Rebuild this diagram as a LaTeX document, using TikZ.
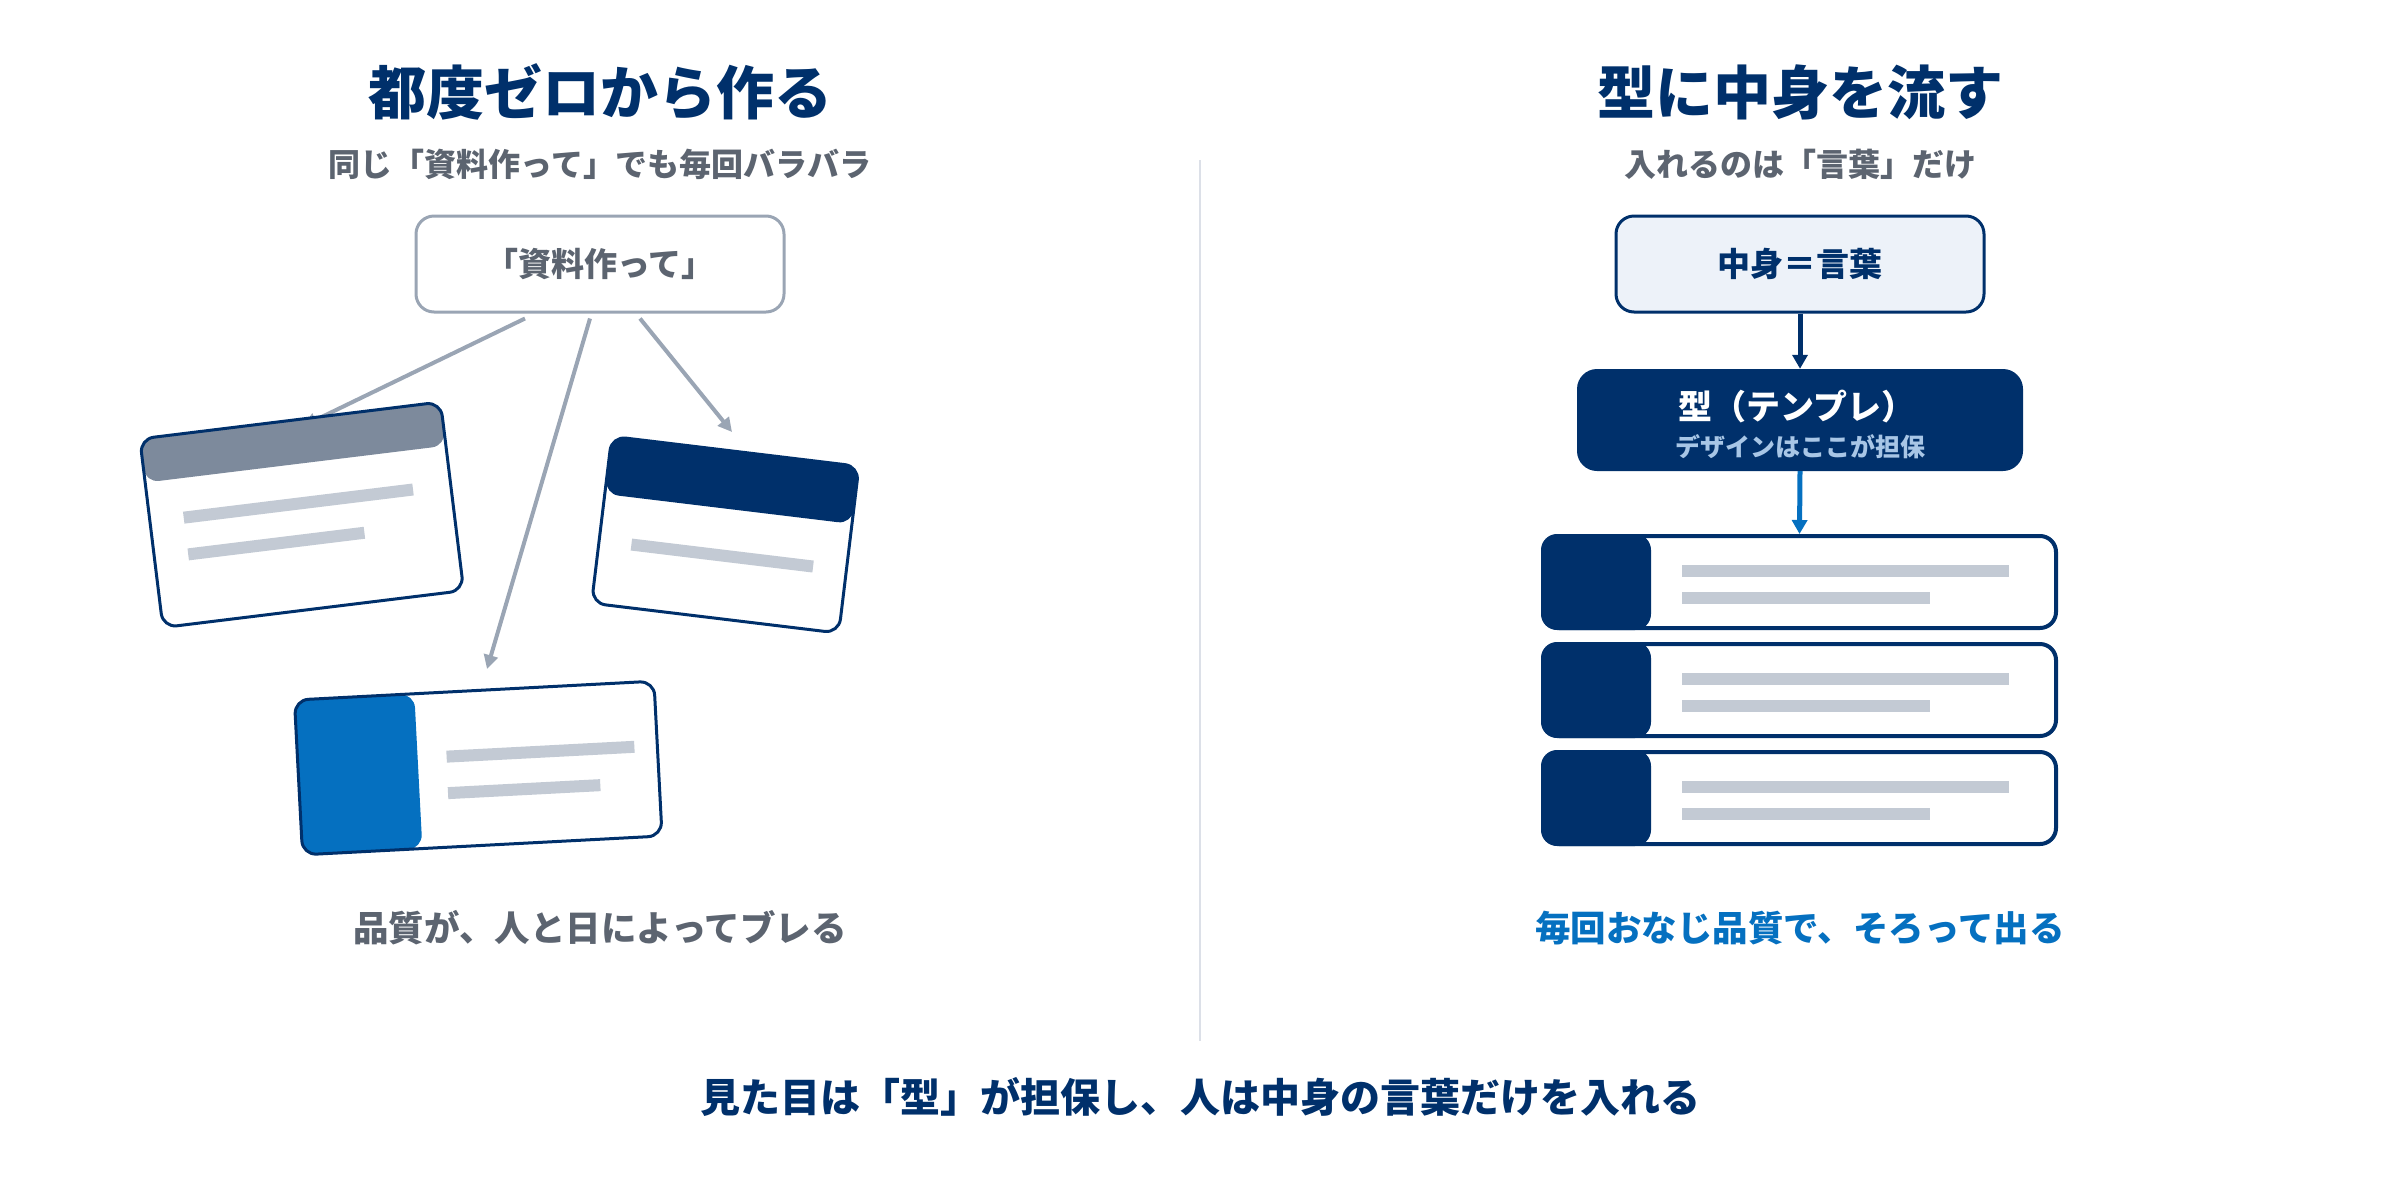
\documentclass[tikz,border=0pt]{standalone}
\usepackage{fontspec}
\setmainfont{Noto Sans CJK JP}
\usetikzlibrary{arrows.meta}

\definecolor{navy}{HTML}{00306B}
\definecolor{brand}{HTML}{0570C0}
\definecolor{slate}{HTML}{5C6470}
\definecolor{greyline}{HTML}{9AA5B4}
\definecolor{greyhead}{HTML}{7D8A9C}
\definecolor{barg}{HTML}{C3CAD4}
\definecolor{palefill}{HTML}{EDF2F9}
\definecolor{paletext}{HTML}{A8C6E6}
\definecolor{divider}{HTML}{DCE0E8}

\begin{document}
\begin{tikzpicture}[x=1pt, y=-1pt]
  \tikzset{
    ttl/.style={font=\fontsize{58}{62}\selectfont\bfseries, text=navy},
    subttl/.style={font=\fontsize{32}{34}\selectfont\bfseries, text=slate},
    req/.style={draw=greyline, line width=3pt, rounded corners=18pt, fill=white,
      minimum width=368pt, minimum height=96pt, inner sep=0pt,
      font=\fontsize{33}{36}\selectfont\bfseries, text=slate},
    words/.style={req, draw=navy, fill=palefill, text=navy},
    tmpl/.style={fill=navy, rounded corners=20pt, minimum width=446pt,
      minimum height=102pt, inner sep=0pt},
    row/.style={draw=navy, line width=4pt, rounded corners=16pt, fill=white,
      minimum width=513pt, minimum height=92pt, inner sep=0pt},
    cardline/.style={draw=navy, line width=3pt, rounded corners=14pt},
    conn/.style={draw=greyline, line width=4pt, -{Triangle[length=14pt, width=14pt]}},
    flow/.style={draw=navy, line width=5pt, -{Triangle[length=14pt, width=15pt]}},
    note/.style={font=\fontsize{35.5}{38}\selectfont\bfseries},
  }
  \useasboundingbox (0,0) rectangle (2400,1200);

  % left column
  \node[ttl] (ttlL) at (600,92) {都度ゼロから作る};
  \node[subttl] (subL) at (600,164) {同じ「資料作って」でも毎回バラバラ};
  \node[req] (req) at (600,264) {「資料作って」};

  \coordinate (toA) at (303,426);
  \coordinate (toB) at (487,669);
  \coordinate (toC) at (732,432);
  \draw[conn] ([shift={(-75,5)}]req.south) -- (toA);
  \draw[conn] ([shift={(-10,5)}]req.south) -- (toB);
  \draw[conn] ([shift={(40,5)}]req.south) -- (toC);

  % card with grey header
  \begin{scope}[shift={(301.75,514.75)}, rotate=7]
    \fill[white, rounded corners=14pt] (-151.5,-95) rectangle (151.5,95);
    \fill[greyhead, rounded corners=14pt] (-151.5,-95) rectangle (151.5,-51);
    \fill[barg] (-117.5,-17.5) rectangle (113.5,-5.5);
    \fill[barg] (-117.5,19.5) rectangle (60,31.5);
    \draw[cardline] (-151.5,-95) rectangle (151.5,95);
  \end{scope}

  % card with navy header
  \begin{scope}[shift={(725.25,534.75)}, rotate=-6.9]
    \fill[white, rounded corners=14pt] (-124.5,-84) rectangle (124.5,84);
    \fill[navy, rounded corners=14pt] (-124.5,-84) rectangle (124.5,-26);
    \fill[barg] (-92,15) rectangle (91,27);
    \draw[cardline] (-124.5,-84) rectangle (124.5,84);
  \end{scope}

  % card with blue side panel
  \begin{scope}[shift={(478.25,768)}, rotate=3]
    \fill[white, rounded corners=14pt] (-180,-77.5) rectangle (180,77.5);
    \fill[brand, rounded corners=14pt] (-180,-77.5) rectangle (-60,77.5);
    \fill[barg] (-31,-19) rectangle (157,-7);
    \fill[barg] (-31.5,17.5) rectangle (121,29.5);
    \draw[cardline] (-180,-77.5) rectangle (180,77.5);
  \end{scope}

  \node[note, text=slate] (resL) at (600,928) {品質が、人と日によってブレる};

  % divider
  \draw[divider, line width=2pt] (1200,160) -- (1200,1041);

  % right column
  \node[ttl] (ttlR) at (1800,92) {型に中身を流す};
  \node[subttl] (subR) at (1800,164) {入れるのは「言葉」だけ};
  \node[words] (words) at (1800,264) {中身＝言葉};
  \node[tmpl] (tmpl) at (1800,420) {};
  \node[font=\fontsize{34}{36}\selectfont\bfseries, text=white] (tmplT) at (1797,407) {型（テンプレ）};
  \node[font=\fontsize{25}{27}\selectfont\bfseries, text=paletext] (tmplS) at (1800,447) {デザインはここが担保};

  \foreach \i/\yy in {1/582, 2/690, 3/798} {
    \node[row] (row\i) at (1799.5,\yy) {};
    \fill[navy, rounded corners=16pt] (row\i.north west) rectangle ([xshift=110pt]row\i.south west);
    \fill[barg] ([shift={(141,-17.5)}]row\i.west) rectangle +(327,12);
    \fill[barg] ([shift={(141,10)}]row\i.west) rectangle +(248,12);
  }

  \draw[flow] (words.south) -- (tmpl.north);
  \draw[flow, draw=brand] (tmpl.south) -- (row1.north);

  \node[note, text=brand] (resR) at (1800,928) {毎回おなじ品質で、そろって出る};

  % footer
  \node[font=\fontsize{40}{44}\selectfont\bfseries, text=navy] (moral) at (1200,1097)
    {見た目は「型」が担保し、人は中身の言葉だけを入れる};
\end{tikzpicture}
\end{document}
